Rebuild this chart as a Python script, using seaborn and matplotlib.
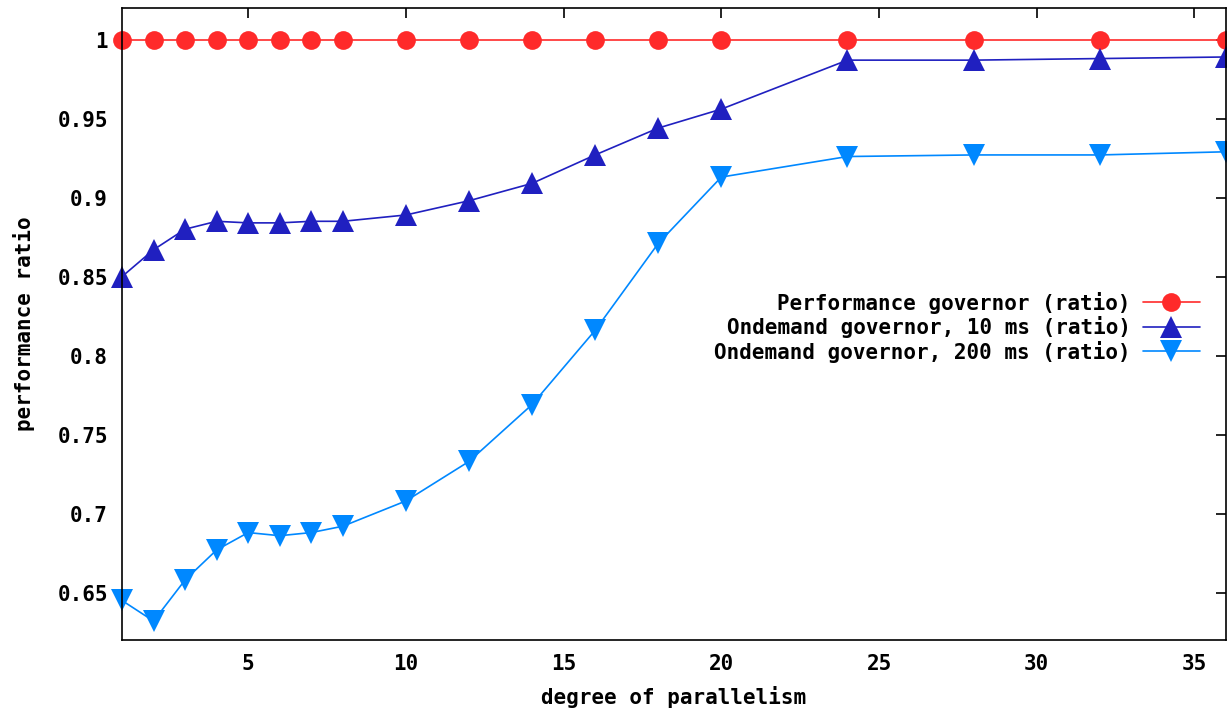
import numpy as np
import pandas as pd
import matplotlib
matplotlib.use('Agg')
import matplotlib.pyplot as plt
import seaborn as sns

# data
parallelism = [1, 2, 3, 4, 5, 6, 7, 8, 10, 12, 14, 16, 18, 20, 24, 28, 32, 36]
perf_ratio = [1.0] * 18
ondemand_10 = [0.850, 0.867, 0.880, 0.885, 0.884, 0.884, 0.885, 0.885, 0.889,
               0.898, 0.909, 0.927, 0.944, 0.956, 0.987, 0.987, 0.988, 0.989]
ondemand_200 = [0.645, 0.632, 0.658, 0.677, 0.688, 0.686, 0.688, 0.692, 0.708,
                0.733, 0.769, 0.816, 0.871, 0.913, 0.926, 0.927, 0.927, 0.929]
labels = ['Performance governor (ratio)',
          'Ondemand governor, 10 ms (ratio)',
          'Ondemand governor, 200 ms (ratio)']
yticks = [0.65, 0.7, 0.75, 0.8, 0.85, 0.9, 0.95, 1]
xticks = [5, 10, 15, 20, 25, 30, 35]

sns.set_style('white')
plt.rcParams['font.family'] = ['DejaVu Sans Mono']
plt.rcParams['font.weight'] = 'bold'
plt.rcParams['text.color'] = 'black'
plt.rcParams['axes.labelcolor'] = 'black'

fig = plt.figure(figsize=(12.27, 7.12), dpi=100)
ax = fig.add_axes([122 / 1227, 72 / 712, 1104 / 1227, 632 / 712])

series = [perf_ratio, ondemand_10, ondemand_200]
colors = ['#ff2a2a', '#2020c0', '#0088ff']
markers = ['o', '^', 'v']
sizes = [13.5, 16, 16]
for vals, lab, c, m, s in zip(series, labels, colors, markers, sizes):
    sns.lineplot(x=parallelism, y=vals, ax=ax, color=c, marker=m,
                 markersize=s, markeredgewidth=0, linewidth=1.2,
                 label=lab, clip_on=False)

ax.set_xlim(1, 36)
ax.set_ylim(0.62, 1.02)
ax.set_xticks(xticks)
ax.set_xticklabels([str(t) for t in xticks])
ax.set_yticks(yticks)
ax.set_yticklabels(['%g' % t for t in yticks])
ax.tick_params(direction='in', length=7, width=1.2, top=True, right=True,
               labelsize=15, pad=10, colors='black')
for sp in ax.spines.values():
    sp.set_visible(True)
    sp.set_color('black')
    sp.set_linewidth(1.2)

ax.set_xlabel('degree of parallelism', fontsize=15, fontweight='bold', labelpad=9)
ax.set_ylabel('performance ratio', fontsize=15, fontweight='bold', labelpad=16)

ax.legend(loc='center right', bbox_to_anchor=(0.976, 0.495), frameon=False,
          markerfirst=False, fontsize=15, handlelength=2.7, handletextpad=0.6,
          labelspacing=0.12, borderpad=0, borderaxespad=0)

fig.savefig('out.png', dpi=100)
